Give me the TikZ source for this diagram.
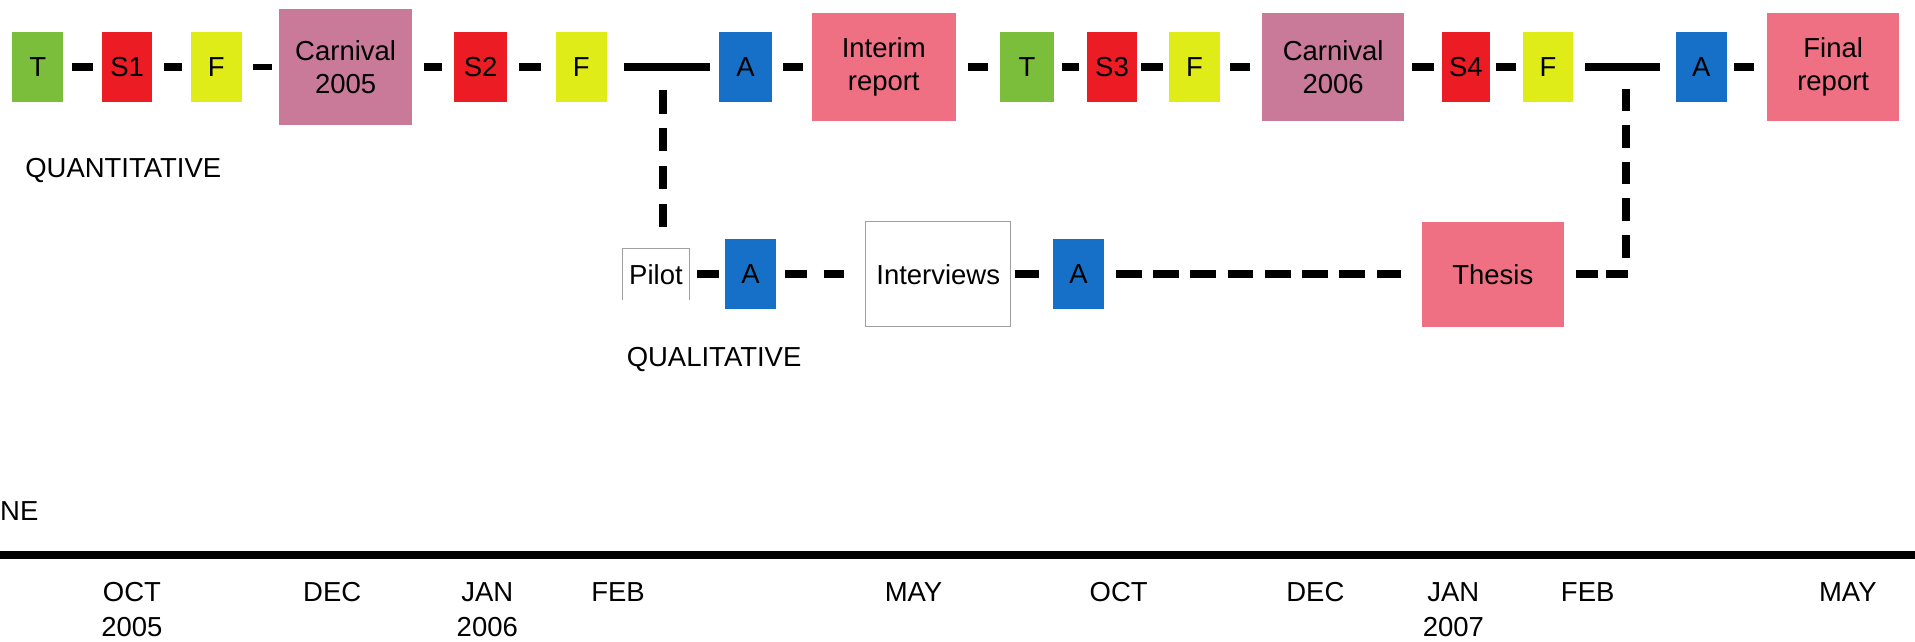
\documentclass[tikz,border=0pt]{standalone}
\usepackage{fontspec}
\setmainfont{Liberation Sans}
\definecolor{cT}{RGB}{122,190,60}
\definecolor{cS}{RGB}{236,28,36}
\definecolor{cF}{RGB}{224,236,24}
\definecolor{cA}{RGB}{22,112,200}
\definecolor{cC}{RGB}{200,122,152}
\definecolor{cR}{RGB}{238,112,130}
\begin{document}
\begin{tikzpicture}[x=1pt,y=-1pt,
  every node/.style={font=\fontsize{22.5}{27}\selectfont, inner sep=0pt},
  sbox/.style={minimum width=41.5pt, minimum height=57pt},
  abox/.style={minimum width=42pt, minimum height=57pt, fill=cA},
  bbox/.style={minimum width=110pt, minimum height=88pt, align=center},
  wline/.style={draw=gray!75, line width=0.8pt},
  conn/.style={line width=6.5pt},
  dconn/.style={line width=6.5pt, dash pattern=on 19pt off 12pt},
  lbl/.style={anchor=base west},
  month/.style={anchor=north, align=center, font=\fontsize{22.5}{28.6}\selectfont}
]
\useasboundingbox[fill=white] (0,0) rectangle (1568,525);

% ---- quantitative row ----
\node[sbox, fill=cT] (T1) at (30.9,55) {T};
\node[sbox, fill=cS] (S1) at (104.1,55) {S1};
\node[sbox, fill=cF] (F1) at (177.1,55) {F};
\node[bbox, fill=cC, minimum width=108.5pt, minimum height=95pt] (C05) at (283,55) {Carnival\\2005};
\node[sbox, fill=cS, minimum width=43pt] (S2) at (393.5,55) {S2};
\node[sbox, fill=cF] (F2) at (476,55) {F};
\node[sbox, fill=cA, minimum width=43pt] (A1) at (610.4,55) {A};
\node[bbox, fill=cR, minimum width=118pt] (IR) at (723.6,55) {Interim\\report};
\node[sbox, fill=cT, minimum width=44pt] (T2) at (841,55) {T};
\node[sbox, fill=cS] (S3) at (910.5,55) {S3};
\node[sbox, fill=cF] (F3) at (978,55) {F};
\node[bbox, fill=cC, minimum width=116pt] (C06) at (1091.6,55) {Carnival\\2006};
\node[sbox, fill=cS, minimum width=39.5pt] (S4) at (1200.2,55) {S4};
\node[sbox, fill=cF] (F4) at (1267.5,55) {F};
\node[sbox, fill=cA] (A2) at (1393,55) {A};
\node[bbox, fill=cR, minimum width=108.5pt] (FR) at (1501,55) {Final\\report};

\node[lbl] (quant) at (20.5,145) {QUANTITATIVE};

\draw[conn, shorten <=7pt, shorten >=7pt] (T1) -- (S1);
\draw[conn, shorten <=9pt, shorten >=7pt] (S1) -- (F1);
\draw[conn, line width=5pt, shorten <=9.5pt, shorten >=6pt] (F1) -- (C05);
\draw[conn, shorten <=10pt, shorten >=10pt] (C05) -- (S2);
\draw[conn, shorten <=10pt, shorten >=12pt] (S2) -- (F2);
\draw[conn, line width=7pt, shorten <=14pt, shorten >=7.5pt] (F2) -- (A1);
\draw[conn, shorten <=9pt, shorten >=7pt] (A1) -- (IR);
\draw[conn, shorten <=10pt, shorten >=10pt] (IR) -- (T2);
\draw[conn, shorten <=6pt, shorten >=6pt] (T2) -- (S3);
\draw[conn, shorten <=3pt, shorten >=5pt] (S3) -- (F3);
\draw[conn, shorten <=8pt, shorten >=10pt] (F3) -- (C06);
\draw[conn, shorten <=6.5pt, shorten >=6.5pt] (C06) -- (S4);
\draw[conn, shorten <=4.5pt, shorten >=5pt] (S4) -- (F4);
\draw[conn, line width=7pt, shorten <=9.5pt, shorten >=13pt] (F4) -- (A2);
\draw[conn, shorten <=6pt, shorten >=10pt] (A2) -- (FR);

\coordinate (j1) at (543,55);
\coordinate (j2) at (1331,55);

% ---- qualitative row ----
\node[minimum width=54.6pt, minimum height=42pt] (P) at (537.1,224.5) {Pilot};
\draw[wline] (P.south west) -- (P.north west) -- (P.north east) -- (P.south east);
\node[abox] (A3) at (614.5,224.5) {A};
\node[wline, minimum width=118.8pt, minimum height=86pt] (IV) at (768.2,224.5) {Interviews};
\node[abox] (A4) at (883,224.5) {A};
\node[fill=cR, minimum width=116.6pt, minimum height=86pt] (TH) at (1222.3,224.5) {Thesis};
\coordinate (c2) at (1331,224.5);

\node[lbl] (qual) at (513,300) {QUALITATIVE};

\draw[dconn, shorten <=19pt, shorten >=17pt] (j1) -- (j1 |- P.north);
\draw[conn, shorten <=6.4pt, shorten >=5pt] (P) -- (A3);
\draw[dconn, dash pattern=on 18pt off 13.6pt, shorten <=7pt, shorten >=17.5pt] (A3) -- (IV);
\draw[conn, shorten <=3.4pt, shorten >=11pt] (IV) -- (A4);
\draw[dconn, dash pattern=on 21pt off 9.5pt, shorten <=9.5pt, shorten >=17pt] (A4) -- (TH);
\draw[dconn, dash pattern=on 18pt off 6pt, shorten <=10pt, shorten >=-3.25pt] (TH.east) -- (c2);
\draw[dconn, dash pattern=on 18.5pt off 11.5pt, shorten <=17.5pt, shorten >=3pt] (j2) -- (c2);

% ---- timeline ----
\node[lbl] (ne) at (0,426) {NE};
\coordinate (tl0) at (0,454.5);
\coordinate (tl1) at (1568,454.5);
\draw[line width=6.5pt] (tl0) -- (tl1);

\node[month] (m1) at (108,476.5) {OCT\\2005};
\node[month] (m2) at (272,476.5) {DEC};
\node[month] (m3) at (399,476.5) {JAN\\2006};
\node[month] (m4) at (506,476.5) {FEB};
\node[month] (m5) at (748,476.5) {MAY};
\node[month] (m6) at (916,476.5) {OCT};
\node[month] (m7) at (1077,476.5) {DEC};
\node[month] (m8) at (1190,476.5) {JAN\\2007};
\node[month] (m9) at (1300,476.5) {FEB};
\node[month] (m10) at (1513,476.5) {MAY};
\end{tikzpicture}
\end{document}
